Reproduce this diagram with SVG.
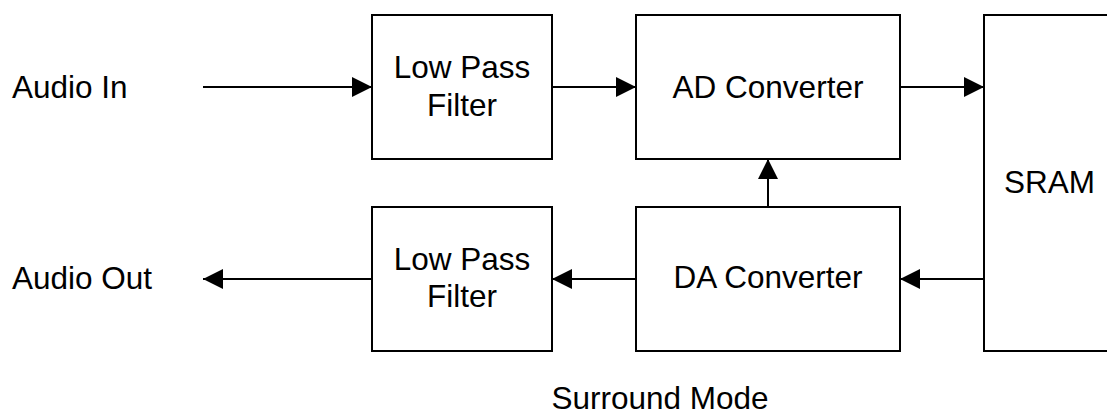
<svg xmlns="http://www.w3.org/2000/svg" width="1107" height="414" viewBox="0 0 1107 414">
<style>
.box{fill:#fff;stroke:#000;stroke-width:2}
.t{font-family:"Liberation Sans",Arial,sans-serif;font-size:31.5px;fill:#000}
.m{text-anchor:middle}
.c{stroke:#000;stroke-width:2;fill:none}
</style>
<defs>
<marker id="ah" markerUnits="userSpaceOnUse" markerWidth="20" markerHeight="20" viewBox="0 0 18 18" refX="18" refY="9" orient="auto">
<path d="M0,0 L18,9 L0,18 Z" fill="#000"/>
</marker>
</defs>
<rect width="1107" height="414" fill="#fff"/>
<g id="audio-in"><text class="t" x="12" y="98">Audio In</text></g>
<g id="audio-out"><text class="t" x="12" y="289">Audio Out</text></g>
<g id="lpf1"><rect class="box" x="372" y="15" width="180" height="144"/><text class="t m" x="462" y="78">Low Pass</text><text class="t m" x="462" y="116">Filter</text></g>
<g id="adc"><rect class="box" x="636" y="15" width="264" height="144"/><text class="t m" x="768" y="98">AD Converter</text></g>
<g id="sram"><rect class="box" x="984" y="15" width="140" height="336"/><text class="t" x="1004" y="193">SRAM</text></g>
<g id="lpf2"><rect class="box" x="372" y="207" width="180" height="144"/><text class="t m" x="462" y="270">Low Pass</text><text class="t m" x="462" y="307">Filter</text></g>
<g id="dac"><rect class="box" x="636" y="207" width="264" height="144"/><text class="t m" x="768" y="288">DA Converter</text></g>
<g id="caption"><text class="t m" x="660" y="409">Surround Mode</text></g>
<g id="connectors">
<line class="c" x1="203" y1="87" x2="372" y2="87" marker-end="url(#ah)"/>
<line class="c" x1="552" y1="87" x2="636" y2="87" marker-end="url(#ah)"/>
<line class="c" x1="900" y1="87" x2="984" y2="87" marker-end="url(#ah)"/>
<line class="c" x1="984" y1="279" x2="900" y2="279" marker-end="url(#ah)"/>
<line class="c" x1="636" y1="279" x2="552" y2="279" marker-end="url(#ah)"/>
<line class="c" x1="372" y1="279" x2="203" y2="279" marker-end="url(#ah)"/>
<line class="c" x1="768" y1="207" x2="768" y2="159" marker-end="url(#ah)"/>
</g>
</svg>
